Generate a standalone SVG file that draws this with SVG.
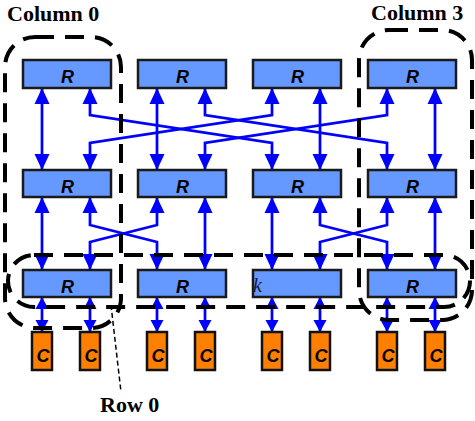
<svg xmlns="http://www.w3.org/2000/svg" width="475" height="421" viewBox="0 0 475 421">
<style>
.rt{fill:#6699FF;stroke:#1a1a1a;stroke-width:2.5}
.co{fill:#FF8000;stroke:#111;stroke-width:2.5}
.rl{font-family:"Liberation Sans",Arial,sans-serif;font-weight:bold;font-style:italic;font-size:18px;fill:#000;text-anchor:middle}
.cap{font-family:"Liberation Serif","Times New Roman",serif;font-weight:bold;font-size:22px;fill:#000}
.cn{fill:none;stroke:#0000FF;stroke-width:2.75;marker-start:url(#ah);marker-end:url(#ah)}
.cs{fill:none;stroke:#0000FF;stroke-width:2.75;marker-start:url(#as);marker-end:url(#as)}
.ol{fill:none;stroke:#000;stroke-width:4;stroke-dasharray:19 11}
</style>
<defs>
<marker id="ah" markerUnits="userSpaceOnUse" markerWidth="16" markerHeight="16" viewBox="0 0 16 16" refX="16" refY="8" orient="auto-start-reverse"><path d="M0,0.5 L16,8 L0,15.5 z" fill="#0000FF"/></marker>
<marker id="as" markerUnits="userSpaceOnUse" markerWidth="12" markerHeight="14" viewBox="0 0 12 14" refX="12" refY="7" orient="auto-start-reverse"><path d="M0,0.5 L12,7 L0,13.5 z" fill="#0000FF"/></marker>
</defs>

<g id="connectors">
<path class="cn" d="M42,88 V170"/>
<path class="cn" d="M157,88 V170"/>
<path class="cn" d="M320,88 V170"/>
<path class="cn" d="M435,88 V170"/>
<path class="cn" d="M90,88 V115 L272,143 V170"/>
<path class="cn" d="M272,88 V115 L90,143 V170"/>
<path class="cn" d="M205,88 V115 L387,143 V170"/>
<path class="cn" d="M387,88 V115 L205,143 V170"/>
<path class="cn" d="M42,197 V270"/>
<path class="cn" d="M205,197 V270"/>
<path class="cn" d="M272,197 V270"/>
<path class="cn" d="M435,197 V270"/>
<path class="cn" d="M90,197 V225 L157,242 V270"/>
<path class="cn" d="M157,197 V225 L90,242 V270"/>
<path class="cn" d="M320,197 V225 L387,242 V270"/>
<path class="cn" d="M387,197 V225 L320,242 V270"/>
<path class="cs" d="M42,297 V332"/>
<path class="cs" d="M90,297 V332"/>
<path class="cs" d="M157,297 V332"/>
<path class="cs" d="M205,297 V332"/>
<path class="cs" d="M272,297 V332"/>
<path class="cs" d="M320,297 V332"/>
<path class="cs" d="M387,297 V332"/>
<path class="cs" d="M435,297 V332"/>
</g>

<g id="r-0-0"><rect class="rt" x="23" y="60" width="88" height="28"/><text class="rl" x="67.5" y="83">R</text></g>
<g id="r-1-0"><rect class="rt" x="138" y="60" width="88" height="28"/><text class="rl" x="182.5" y="83">R</text></g>
<g id="r-2-0"><rect class="rt" x="253" y="60" width="88" height="28"/><text class="rl" x="297.5" y="83">R</text></g>
<g id="r-3-0"><rect class="rt" x="368" y="60" width="88" height="28"/><text class="rl" x="412.5" y="83">R</text></g>

<g id="r-0-1"><rect class="rt" x="23" y="170" width="88" height="27"/><text class="rl" x="67.5" y="193">R</text></g>
<g id="r-1-1"><rect class="rt" x="138" y="170" width="88" height="27"/><text class="rl" x="182.5" y="193">R</text></g>
<g id="r-2-1"><rect class="rt" x="253" y="170" width="88" height="27"/><text class="rl" x="297.5" y="193">R</text></g>
<g id="r-3-1"><rect class="rt" x="368" y="170" width="88" height="27"/><text class="rl" x="412.5" y="193">R</text></g>

<g id="r-0-2"><rect class="rt" x="23" y="270" width="88" height="27"/><text class="rl" x="67.5" y="293">R</text></g>
<g id="r-1-2"><rect class="rt" x="138" y="270" width="88" height="27"/><text class="rl" x="182.5" y="293">R</text></g>
<g id="r-2-2"><rect class="rt" x="253" y="270" width="88" height="27"/><text x="253" y="292" font-family="'Liberation Serif','Times New Roman',serif" font-style="italic" font-size="20" fill="#1a1a33">k</text></g>
<g id="r-3-2"><rect class="rt" x="368" y="270" width="88" height="27"/><text class="rl" x="412.5" y="293">R</text></g>

<g id="c-0"><rect class="co" x="32" y="332" width="20" height="38"/><text class="rl" x="43" y="362">C</text></g>
<g id="c-1"><rect class="co" x="80" y="332" width="20" height="38"/><text class="rl" x="91" y="362">C</text></g>
<g id="c-2"><rect class="co" x="147" y="332" width="20" height="38"/><text class="rl" x="158" y="362">C</text></g>
<g id="c-3"><rect class="co" x="195" y="332" width="20" height="38"/><text class="rl" x="206" y="362">C</text></g>
<g id="c-4"><rect class="co" x="262" y="332" width="20" height="38"/><text class="rl" x="273" y="362">C</text></g>
<g id="c-5"><rect class="co" x="310" y="332" width="20" height="38"/><text class="rl" x="321" y="362">C</text></g>
<g id="c-6"><rect class="co" x="377" y="332" width="20" height="38"/><text class="rl" x="388" y="362">C</text></g>
<g id="c-7"><rect class="co" x="425" y="332" width="20" height="38"/><text class="rl" x="436" y="362">C</text></g>

<g id="outlines">
<rect class="ol" x="5" y="37" width="116" height="291" rx="30" ry="30"/>
<rect class="ol" x="359" y="30" width="113" height="290" rx="30" ry="30"/>
<rect class="ol" x="8" y="255" width="462" height="52" rx="26" ry="26"/>
<path d="M111,305 L121,392" fill="none" stroke="#000" stroke-width="1.5" stroke-dasharray="5 3"/>
</g>

<g id="labels">
<text class="cap" x="7" y="21">Column 0</text>
<text class="cap" x="371" y="20">Column 3</text>
<text class="cap" x="100" y="412">Row 0</text>
</g>
</svg>
